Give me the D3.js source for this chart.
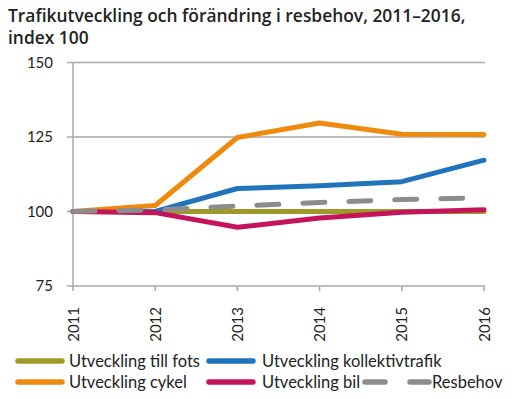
<!DOCTYPE html>
<html>
<head>
<meta charset="utf-8">
<script src="https://cdn.jsdelivr.net/npm/d3@7"></script>
<style>
  html, body { margin: 0; padding: 0; background: #fff; }
  svg { display: block; }
</style>
</head>
<body>
<div id="chart"></div>
<script>
// Traffic development vs change in travel demand, index 2011 = 100.

const years      = [2011, 2012, 2013, 2014, 2015, 2016];
const yTicks     = [75, 100, 125, 150];
const fots       = [100, 100, 100, 100, 100, 100];
const kollektiv  = [100, 100, 107.7, 108.6, 110, 117.2];
const cykel      = [100, 102, 124.8, 129.7, 125.9, 125.8];
const bil        = [100, 99.6, 94.7, 97.8, 99.7, 100.6];
const resbehov   = [100, 100.5, 101.8, 103, 104, 104.6];

const seriesNames  = ['Utveckling till fots', 'Utveckling kollektivtrafik',
                      'Utveckling cykel', 'Utveckling bil', 'Resbehov'];
const seriesValues = [fots, kollektiv, cykel, bil, resbehov];
const seriesColors = ['#9e9a2a', '#1f74bb', '#ee8b0e', '#c4145c', '#8c8c8c'];

const width = 512, height = 399;
const svg = d3.select('#chart').append('svg')
    .attr('width', width)
    .attr('height', height)
    .style('font-family', 'Lato, "Noto Sans", sans-serif');

// Title (two lines).
const title = svg.append('text')
    .style('font-family', '"Open Sans", sans-serif')
    .style('font-size', '17.4px')
    .style('font-weight', '600')
    .style('fill', '#222');
title.append('tspan').attr('x', 8).attr('y', 22)
    .text('Trafikutveckling och förändring i resbehov, 2011–2016,');
title.append('tspan').attr('x', 8).attr('y', 44)
    .text('index 100');

const x = d3.scalePoint().domain(years).range([73, 484]);
const y = d3.scaleLinear().domain([75, 150]).range([286, 62.4]);

const gridColor = '#a8a8a8';

// Horizontal grid lines + left tick stubs.
svg.append('g')
    .selectAll('line')
    .data(yTicks)
    .join('line')
    .attr('x1', 67).attr('x2', 485)
    .attr('y1', d => y(d)).attr('y2', d => y(d))
    .attr('stroke', gridColor)
    .attr('stroke-width', 1.5);

// Y axis line.
svg.append('line')
    .attr('x1', x(2011)).attr('x2', x(2011))
    .attr('y1', y(150)).attr('y2', y(75))
    .attr('stroke', gridColor)
    .attr('stroke-width', 1.5);

// Y labels.
svg.append('g')
    .selectAll('text')
    .data(yTicks)
    .join('text')
    .attr('x', 53)
    .attr('y', d => y(d))
    .attr('dy', '0.35em')
    .attr('text-anchor', 'end')
    .style('font-size', '15px')
    .style('fill', '#222')
    .text(d => d);

// X tick marks.
svg.append('g')
    .selectAll('line')
    .data(years)
    .join('line')
    .attr('x1', d => x(d)).attr('x2', d => x(d))
    .attr('y1', y(75)).attr('y2', y(75) + 5)
    .attr('stroke', gridColor)
    .attr('stroke-width', 1.5);

// X labels, rotated to read bottom-up.
svg.append('g')
    .selectAll('text')
    .data(years)
    .join('text')
    .attr('transform', d => `translate(${x(d) + 5.5}, 307) rotate(-90)`)
    .attr('text-anchor', 'end')
    .style('font-size', '15px')
    .style('fill', '#222')
    .text(d => d);

// Lines.
const line = d3.line()
    .x((d, i) => x(years[i]))
    .y(d => y(d));

svg.append('g')
    .selectAll('path')
    .data(seriesValues)
    .join('path')
    .attr('fill', 'none')
    .attr('stroke', (d, i) => seriesColors[i])
    .attr('stroke-width', 5)
    .attr('stroke-linecap', 'round')
    .attr('stroke-linejoin', 'round')
    .attr('stroke-dasharray', (d, i) => i === 4 ? '22 24' : null)
    .attr('d', line);

// Legend.
const legendItems = [
    { i: 0, sx: 15,  tx: 69,  y: 361 },
    { i: 1, sx: 206, tx: 262, y: 361 },
    { i: 2, sx: 15,  tx: 69,  y: 382 },
    { i: 3, sx: 206, tx: 262, y: 382 }
];
const legend = svg.append('g');
legendItems.forEach(it => {
    legend.append('line')
        .attr('x1', it.sx + 3).attr('x2', it.sx + 47)
        .attr('y1', it.y).attr('y2', it.y)
        .attr('stroke', seriesColors[it.i])
        .attr('stroke-width', 5.5)
        .attr('stroke-linecap', 'round');
    legend.append('text')
        .attr('x', it.tx).attr('y', it.y)
        .attr('dy', '0.36em')
        .style('font-size', '16.5px')
        .style('fill', '#222')
        .text(seriesNames[it.i]);
});
// Resbehov: dashed swatch.
legend.append('line')
    .attr('x1', 365).attr('x2', 429)
    .attr('y1', 382).attr('y2', 382)
    .attr('stroke', seriesColors[4])
    .attr('stroke-width', 5.5)
    .attr('stroke-linecap', 'round')
    .attr('stroke-dasharray', '20 25');
legend.append('text')
    .attr('x', 432).attr('y', 382)
    .attr('dy', '0.36em')
    .style('font-size', '16.5px')
    .style('fill', '#222')
    .text(seriesNames[4]);
</script>
</body>
</html>
